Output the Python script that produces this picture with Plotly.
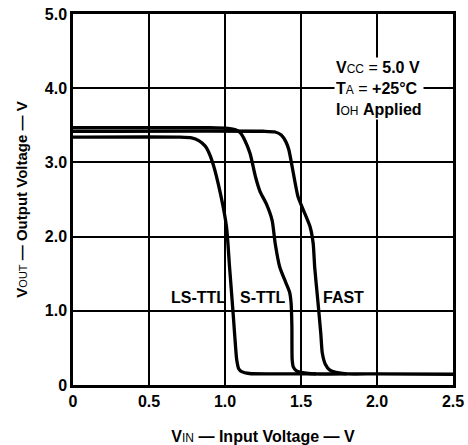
import plotly.graph_objects as go

# LS-TTL
ls_x = [0.0, 0.70, 0.78, 0.83, 0.87, 0.89, 0.92, 0.97, 1.01, 1.03, 1.055, 1.07, 1.077, 1.09, 1.11, 1.16, 1.30, 1.60]
ls_y = [3.34, 3.34, 3.33, 3.29, 3.22, 3.15, 2.99, 2.58, 2.13, 1.59, 0.92, 0.50, 0.34, 0.22, 0.18, 0.155, 0.15, 0.15]
# S-TTL
s_x = [0.0, 0.90, 1.02, 1.07, 1.10, 1.13, 1.165, 1.20, 1.23, 1.27, 1.31, 1.33, 1.36, 1.40, 1.425, 1.435, 1.44, 1.442, 1.45, 1.47, 1.50, 1.58, 1.80]
s_y = [3.47, 3.47, 3.46, 3.44, 3.40, 3.30, 3.12, 2.81, 2.61, 2.45, 2.22, 1.91, 1.59, 1.38, 1.25, 1.10, 0.80, 0.34, 0.24, 0.19, 0.17, 0.15, 0.15]
# FAST
f_x = [0.0, 1.25, 1.33, 1.37, 1.40, 1.42, 1.45, 1.48, 1.515, 1.56, 1.58, 1.59, 1.61, 1.63, 1.64, 1.66, 1.69, 1.73, 1.80, 2.00, 2.50]
f_y = [3.42, 3.42, 3.41, 3.37, 3.28, 3.17, 2.85, 2.54, 2.36, 2.13, 1.91, 1.59, 1.15, 0.70, 0.43, 0.28, 0.20, 0.17, 0.15, 0.15, 0.145]

x_ticks = [0, 0.5, 1.0, 1.5, 2.0, 2.5]
x_labels = ["0", "0.5", "1.0", "1.5", "2.0", "2.5"]
y_ticks = [0, 1, 2, 3, 4, 5]
y_labels = ["0", "1.0", "2.0", "3.0", "4.0", "5.0"]

curve_labels = ["LS-TTL", "S-TTL", "FAST"]
label_x = [0.825, 1.25, 1.78]
label_y = [1.18, 1.18, 1.18]

FONT = "Liberation Sans, Arial, sans-serif"

fig = go.Figure()
for xs, ys in [(ls_x, ls_y), (s_x, s_y), (f_x, f_y)]:
    fig.add_trace(go.Scatter(x=xs, y=ys, mode="lines", line=dict(color="black", width=3.3, shape="spline", smoothing=0.6), showlegend=False, hoverinfo="skip"))

for t, lx, ly in zip(curve_labels, label_x, label_y):
    fig.add_annotation(x=lx, y=ly, text="<b>" + t + "</b>", showarrow=False, font=dict(family=FONT, size=16, color="black"), xanchor="center", yanchor="middle")

fig.add_annotation(
    x=1.72, y=4.0, xanchor="left", yanchor="middle", align="left", showarrow=False,
    text="<b>V</b><span style='font-size:12px'>CC</span> = <b>5.0 V</b><br><b>T</b><span style='font-size:12px'>A</span> = <b>+25°C</b><br><b>I</b><span style='font-size:12px'>OH</span> <b>Applied</b>",
    font=dict(family=FONT, size=16, color="black"), bgcolor="white", borderpad=1,
)

axis_common = dict(
    showgrid=True, gridcolor="black", gridwidth=1.5, zeroline=False,
    showline=True, linecolor="black", linewidth=2.5, mirror=True,
    ticks="", tickfont=dict(family=FONT, size=16, color="black"), automargin=False,
)

fig.update_xaxes(range=[0, 2.5], tickvals=x_ticks, ticktext=["<b>%s</b>" % s for s in x_labels],
                 title=dict(text="<b>V</b><span style='font-size:12px'>IN</span><b> — Input Voltage — V</b>", font=dict(family=FONT, size=16, color="black"), standoff=24),
                 **axis_common)
fig.update_yaxes(range=[0, 5], tickvals=y_ticks, ticktext=["<b>%s</b>" % s for s in y_labels],
                 title=dict(text="<b>V</b><span style='font-size:11px'>OUT</span><b> — Output Voltage — V</b>", font=dict(family=FONT, size=15, color="black"), standoff=14),
                 **axis_common)

fig.update_layout(
    width=468, height=445, margin=dict(l=73, r=15, t=14, b=60),
    paper_bgcolor="white", plot_bgcolor="white",
)

fig.write_html("out.html")
